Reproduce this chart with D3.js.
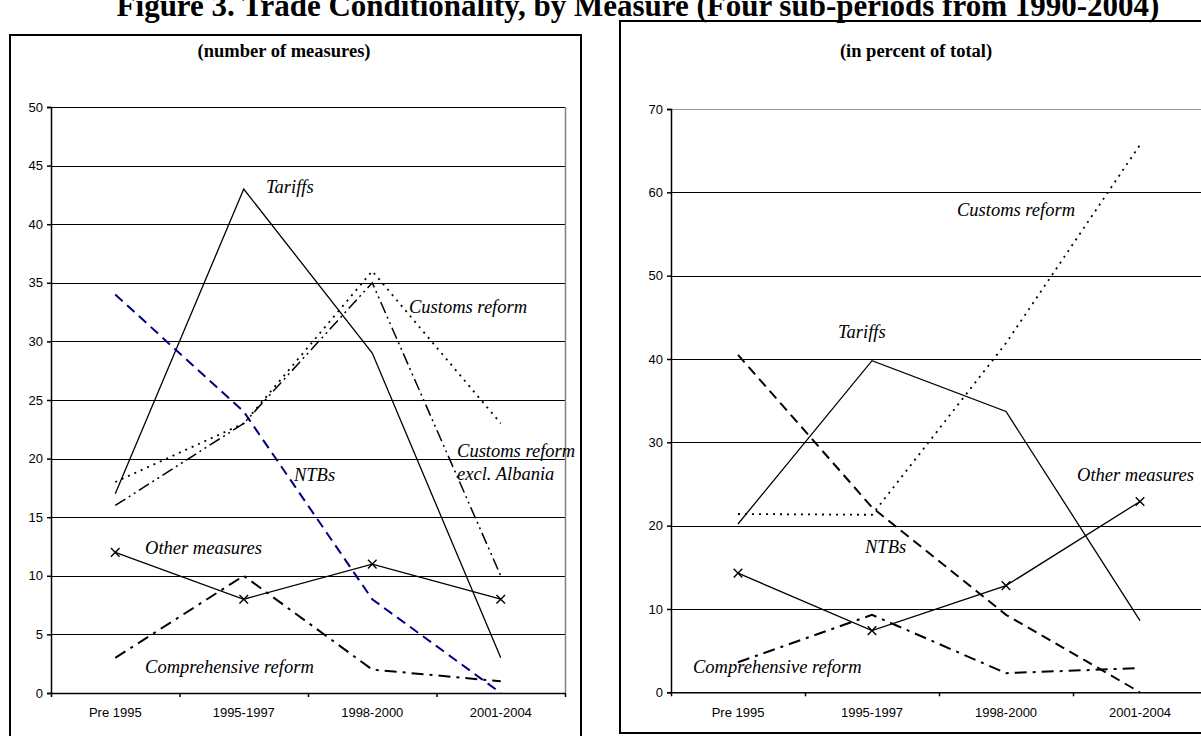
<!DOCTYPE html>
<html><head><meta charset="utf-8">
<script src="https://cdn.jsdelivr.net/npm/d3@7"></script>
<style>
html,body{margin:0;padding:0;background:#fff;}
svg{display:block;}
</style></head>
<body>
<svg id="chart" width="1201" height="736"></svg>
<script>
// ---------- DATA ----------
const categories = ["Pre 1995", "1995-1997", "1998-2000", "2001-2004"];

// Left panel: number of measures
const tariffsCount       = [17, 43, 29, 3];
const ntbsCount          = [34, 24, 8, 0];
const customsCount       = [18, 23, 36, 23];
const customsExAlbCount  = [16, 23, 35, 10];
const otherCount         = [12, 8, 11, 8];
const comprehensiveCount = [3, 10, 2, 1];
const countTicks = [0, 5, 10, 15, 20, 25, 30, 35, 40, 45, 50];

// Right panel: in percent of total
const tariffsPct       = [20.2, 39.8, 33.7, 8.6];
const ntbsPct          = [40.5, 22.2, 9.3, 0];
const customsPct       = [21.4, 21.3, 41.9, 65.7];
const otherPct         = [14.3, 7.4, 12.8, 22.9];
const comprehensivePct = [3.6, 9.3, 2.3, 2.9];
const pctTicks = [0, 10, 20, 30, 40, 50, 60, 70];

const mainTitle = "Figure 3. Trade Conditionality, by Measure (Four sub-periods from 1990-2004)";
const leftTitle = "(number of measures)";
const rightTitle = "(in percent of total)";

// label anchors in data space: f = position along category axis (0..4), v = value
const leftLabels = [
  {text: ["Tariffs"], f: 1.673, v: 42.7},
  {text: ["Customs reform"], f: 2.786, v: 32.4},
  {text: ["Customs reform", "excl. Albania"], f: 3.16, v: 20.1},
  {text: ["NTBs"], f: 1.891, v: 18.1},
  {text: ["Other measures"], f: 0.732, v: 11.9},
  {text: ["Comprehensive reform"], f: 0.732, v: 1.7}
];
const rightLabels = [
  {text: ["Tariffs"], f: 1.246, v: 42.5},
  {text: ["Customs reform"], f: 2.134, v: 57.1},
  {text: ["NTBs"], f: 1.448, v: 16.7},
  {text: ["Other measures"], f: 3.03, v: 25.4},
  {text: ["Comprehensive reform"], f: 0.164, v: 2.3}
];

// ---------- STYLES ----------
const ST = {
  solid:   {dash: null, w: 1.3, color: "#000"},
  ntbBlue: {dash: "10,6", w: 2, color: "#000080"},
  ntbBlack:{dash: "10,6", w: 2, color: "#000"},
  dotted:  {dash: "2,5", w: 1.8, color: "#000"},
  dashDotDot: {dash: "12,4,2,4,2,4", w: 1.5, color: "#000"},
  dashDot: {dash: "12,6,3,6", w: 2, color: "#000"}
};

const leftSeries = [
  {values: tariffsCount, st: ST.solid},
  {values: ntbsCount, st: ST.ntbBlue},
  {values: customsCount, st: ST.dotted},
  {values: customsExAlbCount, st: ST.dashDotDot},
  {values: otherCount, st: ST.solid, marker: true},
  {values: comprehensiveCount, st: ST.dashDot}
];
const rightSeries = [
  {values: tariffsPct, st: ST.solid},
  {values: ntbsPct, st: ST.ntbBlack},
  {values: customsPct, st: ST.dotted},
  {values: otherPct, st: ST.solid, marker: true},
  {values: comprehensivePct, st: ST.dashDot}
];

const svg = d3.select("#chart");
const SERIF = "'Liberation Serif','Times New Roman',Times,serif";
const SANS = "'Liberation Sans',Arial,Helvetica,sans-serif";

// main title (top partly cut off in the reference)
svg.append("text").attr("x", 638).attr("y", 16)
  .attr("text-anchor", "middle").attr("font-family", SERIF)
  .attr("font-weight", "bold").attr("font-size", 31).text(mainTitle);

// panel frames
svg.append("rect").attr("x", 10).attr("y", 35).attr("width", 571).attr("height", 760)
  .attr("fill", "none").attr("stroke", "#000").attr("stroke-width", 2);
svg.append("rect").attr("x", 620).attr("y", 21).attr("width", 640).attr("height", 712)
  .attr("fill", "none").attr("stroke", "#000").attr("stroke-width", 2);

function panel(cfg) {
  const g = svg.append("g");
  const x = d3.scaleBand().domain(categories).range([cfg.x0, cfg.x1]).padding(0);
  const xf = d3.scaleLinear().domain([0, categories.length]).range([cfg.x0, cfg.x1]);
  const y = d3.scaleLinear().domain([0, cfg.ymax]).range([cfg.yBot, cfg.yTop]);
  const cx = c => x(c) + x.bandwidth() / 2;

  // title
  g.append("text").attr("x", cfg.titleX).attr("y", 57).attr("text-anchor", "middle")
    .attr("font-family", SERIF).attr("font-weight", "bold").attr("font-size", 18.5)
    .text(cfg.title);

  // gridlines
  g.append("g").selectAll("line").data(cfg.ticks.filter(t => t > 0)).join("line")
    .attr("x1", cfg.x0).attr("x2", cfg.x1)
    .attr("y1", d => Math.round(y(d)) + 0.5).attr("y2", d => Math.round(y(d)) + 0.5)
    .attr("stroke", d => d === cfg.ymax ? cfg.topGrid : "#000").attr("stroke-width", 1);

  // right plot edge
  g.append("line").attr("x1", cfg.x1 + 0.5).attr("x2", cfg.x1 + 0.5)
    .attr("y1", y(cfg.ymax)).attr("y2", y(0)).attr("stroke", "#808080").attr("stroke-width", 1.5);

  // y axis
  const ya = g.append("g").attr("transform", `translate(${cfg.x0},0)`)
    .call(d3.axisLeft(y).tickValues(cfg.ticks).tickSize(4).tickPadding(4).tickFormat(d3.format("d")));
  ya.selectAll("text").attr("font-family", SANS).attr("font-size", 13).attr("fill", "#000");
  ya.selectAll("line, path").attr("stroke", "#000").attr("stroke-width", 1.5);

  // x axis: boundary ticks
  const xb = g.append("g").attr("transform", `translate(0,${y(0)})`)
    .call(d3.axisBottom(xf).tickValues(d3.range(categories.length + 1)).tickSize(4).tickFormat("").tickSizeOuter(0));
  xb.selectAll("line, path").attr("stroke", "#000").attr("stroke-width", 1.5);
  // category labels
  const xl = g.append("g").attr("transform", `translate(0,${y(0)})`)
    .call(d3.axisBottom(x).tickSize(0).tickPadding(15));
  xl.select("path").remove();
  xl.selectAll("text").attr("font-family", SANS).attr("font-size", 13).attr("fill", "#000");

  // series lines
  const line = d3.line().x((d, i) => cx(categories[i])).y(d => y(d));
  cfg.series.forEach(s => {
    g.append("path").datum(s.values).attr("d", line)
      .attr("fill", "none").attr("stroke", s.st.color).attr("stroke-width", s.st.w)
      .attr("stroke-dasharray", s.st.dash).attr("stroke-linejoin", "miter");
    if (s.marker) {
      const m = g.append("g");
      s.values.forEach((v, i) => {
        m.append("path").attr("transform", `translate(${cx(categories[i])},${y(v)})`)
          .attr("d", d3.symbol(d3.symbolX, 50)())
          .attr("fill", "none").attr("stroke", "#000").attr("stroke-width", 1.4);
      });
    }
  });

  // labels
  cfg.labels.forEach(l => {
    const t = g.append("text").attr("x", xf(l.f)).attr("y", y(l.v))
      .attr("font-family", SERIF).attr("font-style", "italic").attr("font-size", 18.5).attr("fill", "#000");
    l.text.forEach((s, i) => {
      t.append("tspan").attr("x", xf(l.f)).attr("dy", i === 0 ? 0 : "1.2em").text(s);
    });
  });
}

panel({x0: 51, x1: 565, yTop: 107, yBot: 693, ymax: 50, ticks: countTicks,
       series: leftSeries, labels: leftLabels, title: leftTitle, titleX: 284, topGrid: "#000"});
panel({x0: 671, x1: 1207, yTop: 109, yBot: 692.3, ymax: 70, ticks: pctTicks,
       series: rightSeries, labels: rightLabels, title: rightTitle, titleX: 916, topGrid: "#999"});
</script>
</body></html>
